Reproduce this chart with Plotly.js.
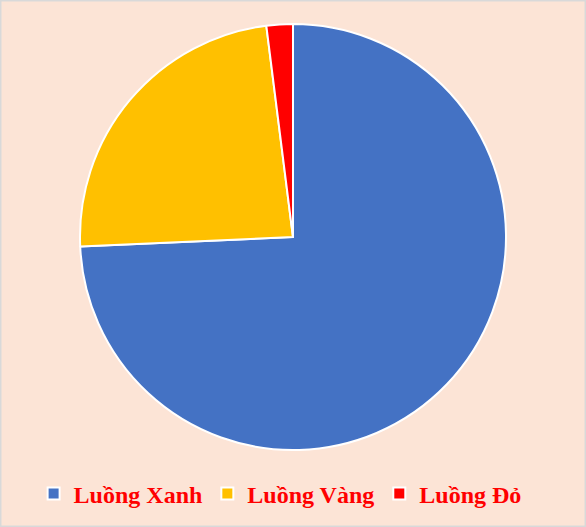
<!DOCTYPE html>
<html>
<head>
<meta charset="utf-8">
<script src="https://cdn.plot.ly/plotly-3.0.1.min.js"></script>
<style>
  body { margin: 0; }
  #myDiv { width: 586px; height: 527px; }
</style>
</head>
<body>
<div id="myDiv"></div>
<script>
var labels = ['Luồng Xanh', 'Luồng Vàng', 'Luồng Đỏ'];
var values = [74.3, 23.7, 2.0];
var colors = ['#4472C4', '#FFC000', '#FF0000'];

var data = [{
  type: 'pie',
  labels: labels,
  values: values,
  sort: false,
  direction: 'clockwise',
  rotation: 0,
  textinfo: 'none',
  hoverinfo: 'label+percent',
  marker: { colors: colors, line: { color: '#FFFFFF', width: 2 } },
  domain: { x: [0.1365, 0.8635], y: [0.146, 0.9545] }
}];

var layout = {
  width: 586,
  height: 527,
  margin: { l: 0, r: 0, t: 0, b: 0 },
  paper_bgcolor: '#FCE4D6',
  showlegend: true,
  legend: {
    orientation: 'h',
    x: 0.478, xanchor: 'center',
    y: 0.063, yanchor: 'middle',
    bgcolor: 'rgba(0,0,0,0)',
    itemwidth: 30,
    font: { family: '"Liberation Serif", "Times New Roman", serif', size: 24, color: '#FF0000', weight: 'bold' }
  },
  shapes: [{
    type: 'rect', xref: 'paper', yref: 'paper',
    x0: 0, x1: 1, y0: 0, y1: 1,
    line: { color: '#D9D9D9', width: 3 }
  }]
};

Plotly.newPlot('myDiv', data, layout, { displayModeBar: false });
</script>
</body>
</html>
